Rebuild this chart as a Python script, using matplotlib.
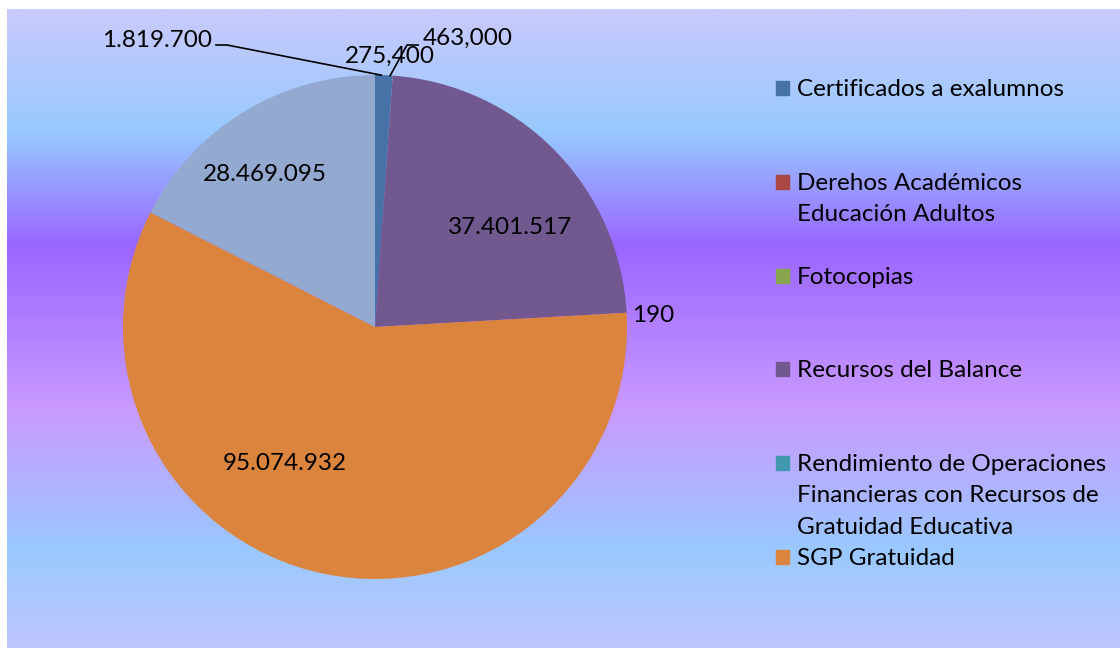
import numpy as np
import matplotlib
matplotlib.use('Agg')
import matplotlib.pyplot as plt
from matplotlib.colors import LinearSegmentedColormap

plt.rcParams['font.family'] = ['Lato', 'DejaVu Sans']

# Datos
categorias = ['Certificados a exalumnos',
              'Derehos Académicos\nEducación Adultos',
              'Fotocopias',
              'Recursos del Balance',
              'Rendimiento de Operaciones\nFinancieras con Recursos de\nGratuidad Educativa',
              'SGP Gratuidad',
              '']
valores = [1819700, 275.4, 463.0, 37401517, 190, 95074932, 28469095]
etiquetas = ['1.819.700', '275,400', '463,000', '37.401.517', '190', '95.074.932', '28.469.095']
colores = ['#4572A7', '#AA4643', '#89A54E', '#71588F', '#4198AF', '#DB843D', '#93A9CF']
n_leyenda = 6  # la ultima categoria no aparece en la leyenda

W, H = 1120, 650
fig = plt.figure(figsize=(W / 100, H / 100), dpi=100)
fig.patch.set_facecolor('white')

# Fondo con degradado (area del grafico)
x0, y0, x1, y1 = 7, 9, 1120, 648
bg = fig.add_axes([x0 / W, 1 - y1 / H, (x1 - x0) / W, (y1 - y0) / H])
paradas = [(0.0, '#CACAFD'), (0.19, '#97C9FF'), (0.37, '#9A66FF'),
           (0.63, '#CA9AFF'), (0.85, '#99C9FF'), (1.0, '#BFC6FE')]
cmap = LinearSegmentedColormap.from_list('fondo', paradas)
grad = np.linspace(0, 1, 400).reshape(-1, 1)
bg.imshow(grad, aspect='auto', cmap=cmap, extent=[0, 1, 1, 0])
bg.set_xlim(0, 1); bg.set_ylim(1, 0)
bg.axis('off')

# Torta: centro (375, 327) px, radio 252 px
cx, cy, r = 375, 327, 252
ax = fig.add_axes([(cx - r) / W, 1 - (cy + r) / H, 2 * r / W, 2 * r / H])
wedges, _ = ax.pie(valores, colors=colores, startangle=90, counterclock=False,
                   radius=1, wedgeprops=dict(linewidth=0))
ax.set_xlim(-1, 1); ax.set_ylim(-1, 1)
ax.axis('off')

fs = 17.5

def borde(i):
    t = np.deg2rad((wedges[i].theta1 + wedges[i].theta2) / 2)
    return np.cos(t), np.sin(t)

# etiquetas dentro de las porciones grandes
ax.text(0.536, 0.393, etiquetas[3], ha='center', va='center', fontsize=fs)
ax.text(-0.357, -0.540, etiquetas[5], ha='center', va='center', fontsize=fs)
ax.text(-0.437, 0.607, etiquetas[6], ha='center', va='center', fontsize=fs)
ax.text(1.02, 0.044, etiquetas[4], ha='left', va='center', fontsize=fs)

# etiquetas pequenas con lineas guia
bx, by = borde(0)
ax.plot([-0.631, -0.587, bx - 0.01], [1.119, 1.119, by], color='black', lw=1.2, clip_on=False)
ax.text(-0.647, 1.135, etiquetas[0], ha='right', va='center', fontsize=fs)
ax.text(0.06, 1.075, etiquetas[1], ha='center', va='center', fontsize=fs)
gx, gy = borde(2)
ax.plot([0.171, 0.127, gx - 0.01], [1.119, 1.119, gy], color='black', lw=1.2, clip_on=False)
ax.text(0.19, 1.147, etiquetas[2], ha='left', va='center', fontsize=fs)

# Leyenda manual al estilo de Excel
ley_y0, paso = 88, 93.8
for i in range(n_leyenda):
    yp = ley_y0 + i * paso
    fig.patches.append(plt.Rectangle((776 / W, 1 - (yp + 7) / H), 13 / W, 14 / H,
                                     transform=fig.transFigure, color=colores[i]))
    fig.text(797 / W, 1 - (yp - 9) / H, categorias[i], ha='left', va='top',
             fontsize=fs, linespacing=1.6)

fig.savefig('out.png', dpi=100)
